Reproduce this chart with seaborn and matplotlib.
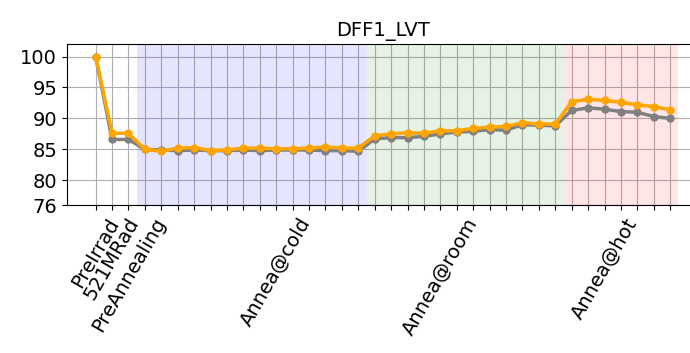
import numpy as np
import pandas as pd
import matplotlib
matplotlib.use("Agg")
import matplotlib.pyplot as plt
import seaborn as sns

# values
steps = list(range(36))
gray_vals = [100.0, 86.6, 86.6, 85.0, 84.9, 84.8, 84.9, 84.8, 84.8, 84.9,
             84.8, 84.9, 84.9, 84.9, 84.8, 84.8, 84.7, 86.7, 86.9, 86.9,
             87.1, 87.5, 87.8, 87.9, 88.2, 88.1, 89.0, 88.9, 88.8, 91.3,
             91.7, 91.5, 91.1, 91.0, 90.3, 90.0]
orange_vals = [100.0, 87.6, 87.6, 85.0, 84.7, 85.2, 85.3, 84.8, 84.9, 85.2,
               85.2, 85.1, 85.1, 85.2, 85.4, 85.2, 85.2, 87.2, 87.5, 87.7,
               87.6, 88.0, 88.0, 88.4, 88.6, 88.7, 89.3, 89.1, 89.1, 92.7,
               93.1, 92.9, 92.6, 92.2, 91.9, 91.4]
tick_names = {0: "PreIrrad", 1: "521MRad", 2: "PreAnnealing",
              11: "Annea@cold", 21: "Annea@room", 31: "Annea@hot"}
phases = [(2.5, 16.5, "blue"), (16.5, 28.5, "green"), (28.5, 35.5, "red")]

df = pd.DataFrame({"step": steps, "gray": gray_vals, "orange": orange_vals})

fig = plt.figure(figsize=(6.9, 3.53), dpi=100)
ax = fig.add_axes([0.097, 0.419, 0.916, 0.456])

for start, end, col in phases:
    ax.axvspan(start, end, color=col, alpha=0.1, lw=0)

sns.lineplot(data=df, x="step", y="gray", color="gray", marker="o",
             markersize=6, markeredgewidth=0, lw=2.5, ax=ax)
sns.lineplot(data=df, x="step", y="orange", color="orange", marker="o",
             markersize=6, markeredgewidth=0, lw=2.5, ax=ax)

ax.set_xlim(-1.75, 36.75)
ax.set_ylim(76, 102)
ax.set_yticks([76, 80, 85, 90, 95, 100])
ax.set_xticks(steps)
ax.set_xticklabels([tick_names.get(i, "") for i in steps], rotation=60)
ax.tick_params(labelsize=14)
ax.grid(True)
ax.set_axisbelow(True)
ax.spines["right"].set_visible(False)
ax.set_xlabel("")
ax.set_ylabel("")
ax.set_title("DFF1_LVT", fontsize=14)

fig.savefig("out.png", dpi=100)
